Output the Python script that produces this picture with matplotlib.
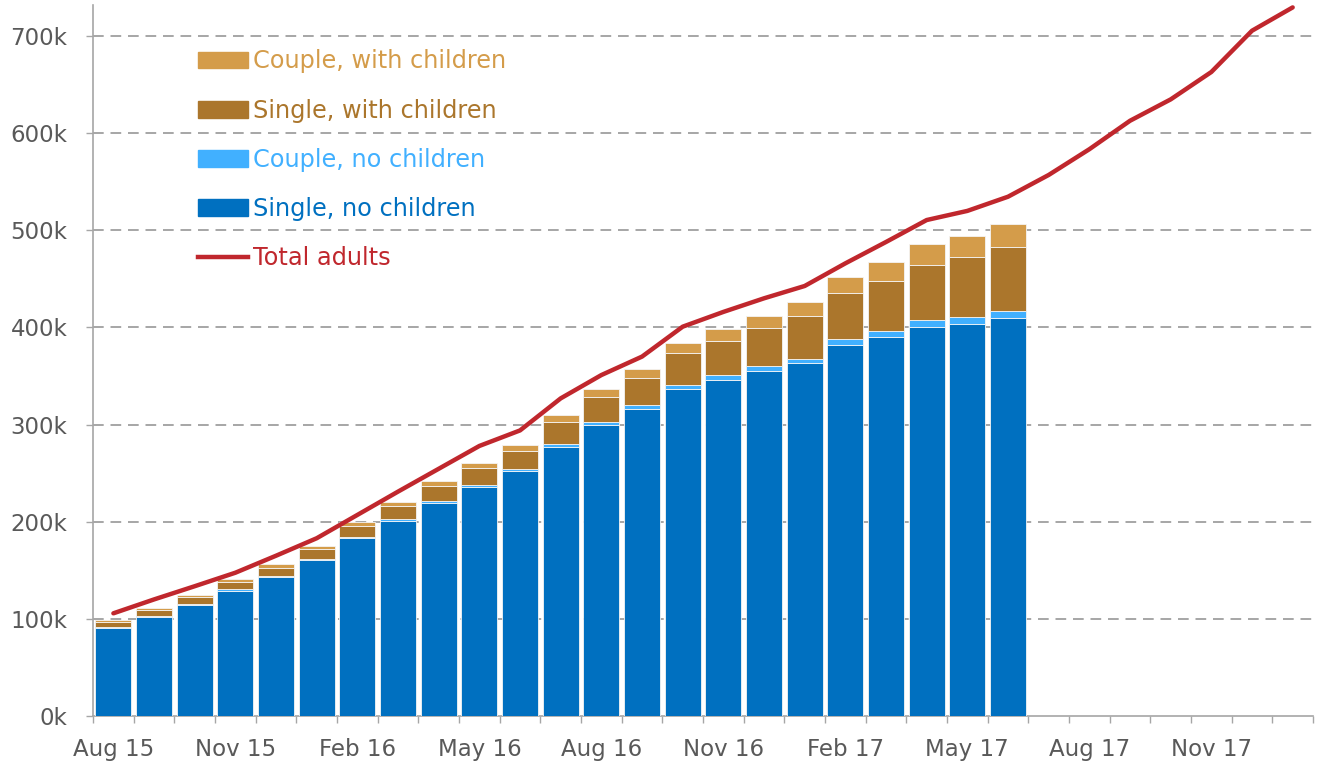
import numpy as np
import matplotlib
matplotlib.use('Agg')
import matplotlib.pyplot as plt
from matplotlib.patches import Patch
from matplotlib.lines import Line2D

plt.rcParams['font.family'] = ['DejaVu Sans']

# months Aug 15 .. Jan 18 (line), bars stop at Jun 17
months = ['Aug 15', 'Sep 15', 'Oct 15', 'Nov 15', 'Dec 15', 'Jan 16', 'Feb 16', 'Mar 16',
          'Apr 16', 'May 16', 'Jun 16', 'Jul 16', 'Aug 16', 'Sep 16', 'Oct 16', 'Nov 16',
          'Dec 16', 'Jan 17', 'Feb 17', 'Mar 17', 'Apr 17', 'May 17', 'Jun 17', 'Jul 17',
          'Aug 17', 'Sep 17', 'Oct 17', 'Nov 17', 'Dec 17', 'Jan 18']

# thousands
single_no_kids = [90.6, 102.2, 114, 129, 142.8, 160.3, 183, 200.7, 219.6, 235.7, 252, 277.2,
                  299.3, 316.3, 336.6, 345.9, 355.5, 363, 381.9, 389.8, 400.4, 403.5, 409.4]
couple_no_kids = [1.2, 1.2, 1.5, 1.4, 1.3, 1.3, 1.3, 1.8, 1.7, 1.8, 2.0, 2.5,
                  3.0, 3.7, 3.8, 4.8, 4.8, 4.8, 5.9, 6.5, 7.3, 7.5, 7.6]
single_kids = [5.0, 5.6, 6.5, 7.9, 8.6, 10.0, 11.7, 14.0, 15.7, 17.5, 19.0, 23.0,
               25.7, 28.3, 32.9, 35.7, 38.7, 44.0, 48.0, 51.7, 56.9, 61.2, 65.4]
couple_kids = [2.0, 1.8, 2.5, 2.7, 3.3, 3.4, 3.7, 4.1, 4.6, 5.0, 6.0, 6.8,
               8.3, 8.9, 10.3, 12.0, 13.0, 14.4, 16.2, 19.0, 21.0, 22.3, 23.8]
total_adults = [105.7, 120, 133.6, 147.5, 165, 183, 207, 231, 254.5, 278, 294, 327,
                351, 370, 400.8, 416, 430, 442.7, 466, 488, 510.6, 520, 534.6, 557,
                583.5, 612.8, 634.8, 663, 705.5, 729.5]

c_single = '#0070C0'
c_couple = '#41B0FF'
c_single_k = '#AB762C'
c_couple_k = '#D49C4A'
c_line = '#C0272D'
c_text = '#595959'
c_grid = '#A6A6A6'

fig = plt.figure(figsize=(13.2, 7.66), dpi=100)
ax = fig.add_axes([0.0705, 0.0653, 0.9242, 0.9282])

x = np.arange(len(single_no_kids))
k = 1000
s1 = np.array(single_no_kids) * k
s2 = np.array(couple_no_kids) * k
s3 = np.array(single_kids) * k
s4 = np.array(couple_kids) * k

w = 0.88
bar_kw = dict(width=w, edgecolor='#F4F4F4', linewidth=0.6, zorder=3)
ax.bar(x, s1, color=c_single, **bar_kw)
ax.bar(x, s2, bottom=s1, color=c_couple, **bar_kw)
ax.bar(x, s3, bottom=s1 + s2, color=c_single_k, **bar_kw)
ax.bar(x, s4, bottom=s1 + s2 + s3, color=c_couple_k, **bar_kw)

xl = np.arange(len(total_adults))
ax.plot(xl, np.array(total_adults) * k, color=c_line, lw=3.2, zorder=4, solid_capstyle='round')

ax.set_xlim(-0.5, len(months) - 0.5)
ax.set_ylim(0, 732000)

yt = np.arange(0, 700001, 100000)
ax.set_yticks(yt)
ax.set_yticklabels([f'{int(v/1000)}k' for v in yt])
for v in yt[1:]:
    ax.axhline(v, color=c_grid, lw=1.4, ls=(0, (5.5, 3.5)), zorder=1)

# labels every 3 months at bar centres, ticks on month boundaries
ax.set_xticks(xl[::3])
ax.set_xticklabels(months[::3])
ax.set_xticks(np.arange(-0.5, len(months)), minor=True)
ax.tick_params(axis='x', which='major', length=0, pad=15.5, labelsize=16.5, labelcolor=c_text)
ax.tick_params(axis='x', which='minor', length=5, width=1, color=c_grid)
ax.tick_params(axis='y', length=5, width=1, color=c_grid, labelsize=16.5, labelcolor=c_text, pad=13.5)

for s in ['top', 'right']:
    ax.spines[s].set_visible(False)
for s in ['left', 'bottom']:
    ax.spines[s].set_color(c_grid)
    ax.spines[s].set_linewidth(1.2)

handles = [Patch(color=c_couple_k), Patch(color=c_single_k), Patch(color=c_couple),
           Patch(color=c_single), Line2D([], [], color=c_line, lw=3.2)]
labels = ['Couple, with children', 'Single, with children', 'Couple, no children',
          'Single, no children', 'Total adults']
leg = ax.legend(handles, labels, loc='upper left', bbox_to_anchor=(0.068, 0.968),
                frameon=False, fontsize=17.3, handlelength=2.1, handleheight=0.7,
                handletextpad=0.2, labelspacing=1.05)
for t, c in zip(leg.get_texts(), [c_couple_k, c_single_k, c_couple, c_single, c_line]):
    t.set_color(c)

fig.savefig('out.png', dpi=100)
